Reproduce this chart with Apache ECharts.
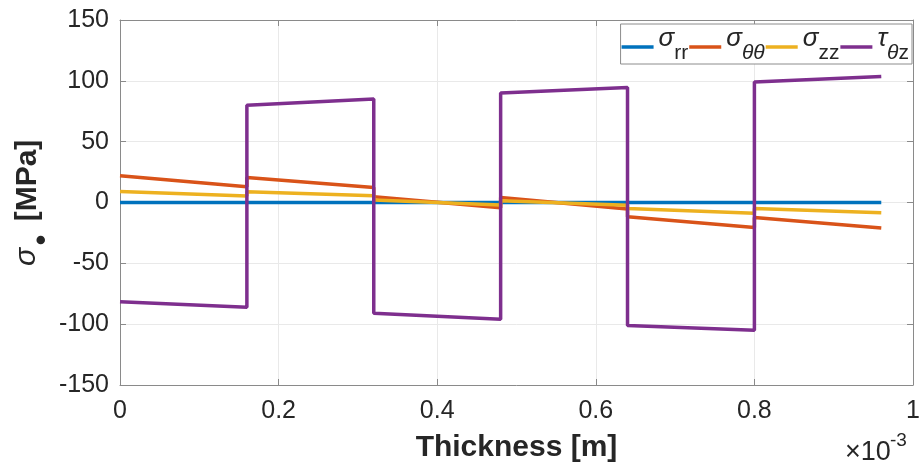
<!DOCTYPE html>
<html>
<head>
<meta charset="utf-8">
<script src="https://cdn.jsdelivr.net/npm/echarts@6/dist/echarts.min.js"></script>
<style>
  html, body { margin: 0; padding: 0; background: #fff; }
  #chart { width: 921px; height: 473px; }
</style>
</head>
<body>
<div id="chart"></div>
<script>
// Thickness positions (units of 1e-3 m); duplicated x values mark layer interfaces
const thickness = [0, 0.16, 0.16, 0.32, 0.32, 0.48, 0.48, 0.64, 0.64, 0.80, 0.80, 0.96];
const sigmaRR   = [0, 0, 0, 0, 0, 0, 0, 0, 0, 0, 0, 0];
const sigmaTT   = [22, 13, 20.5, 12.3, 4.7, -4.3, 4.1, -5.3, -11.8, -20.5, -12.3, -21];
const sigmaZZ   = [9, 5.4, 8.9, 5.5, 2.0, -2.0, 1.5, -2.2, -4.9, -8.8, -4.9, -8.5];
const tauTZ     = [-81.5, -86, 80, 85, -91, -96, 90, 94.5, -101, -105, 99, 103.5];

const seriesNames = ['σrr', 'σθθ', 'σzz', 'τθz'];
const seriesData = [sigmaRR, sigmaTT, sigmaZZ, tauTZ];
const seriesColors = ['#0072BD', '#D95319', '#EDB120', '#7E2F8E'];
const legendRich = {
  'σrr': '{g|σ}{s|rr}',
  'σθθ': '{g|σ}{si|θθ}',
  'σzz': '{g|σ}{s|zz}',
  'τθz': '{g|τ}{si|θ}{s|z}'
};

const xTicks = { min: 0, max: 1, interval: 0.2 };
const yTicks = { min: -150, max: 150, interval: 50 };

const FONT = '"Liberation Sans", Arial, Helvetica, sans-serif';
const TXT = '#262626';
const AX = '#8a8a8a';
const GRIDC = '#e9e9e9';

const chart = echarts.init(document.getElementById('chart'), null, { renderer: 'canvas' });

function pairs(xs, ys) { return xs.map((x, i) => [x, ys[i]]); }

const mainAxisCommon = {
  axisLine: { show: true, onZero: false, lineStyle: { color: AX, width: 1 } },
  axisTick: { show: true, inside: true, length: 6, lineStyle: { color: AX } },
};

const option = {
  animation: false,
  backgroundColor: '#ffffff',
  grid: { left: 120, right: 8, top: 20, bottom: 88, containLabel: false, outerBoundsMode: 'none' },
  xAxis: [
    Object.assign({
      type: 'value', position: 'bottom',
      min: xTicks.min, max: xTicks.max, interval: xTicks.interval,
      name: 'Thickness [m]', nameLocation: 'middle', nameGap: 48,
      nameTextStyle: { fontFamily: FONT, fontWeight: 'bold', fontSize: 30, color: TXT },
      axisLabel: { fontFamily: FONT, fontSize: 25, color: TXT, margin: 14,
        formatter: v => (Math.abs(v - Math.round(v)) < 1e-9 ? String(Math.round(v)) : v.toFixed(1)) },
      splitLine: { show: true, lineStyle: { color: GRIDC, width: 1 } }
    }, mainAxisCommon),
    Object.assign({
      type: 'value', position: 'top',
      min: xTicks.min, max: xTicks.max, interval: xTicks.interval,
      axisLabel: { show: false }, splitLine: { show: false }
    }, mainAxisCommon)
  ],
  yAxis: [
    Object.assign({
      type: 'value', position: 'left',
      min: yTicks.min, max: yTicks.max, interval: yTicks.interval,
      axisLabel: { fontFamily: FONT, fontSize: 25, color: TXT, margin: 11 },
      splitLine: { show: true, lineStyle: { color: GRIDC, width: 1 } }
    }, mainAxisCommon),
    Object.assign({
      type: 'value', position: 'right',
      min: yTicks.min, max: yTicks.max, interval: yTicks.interval,
      axisLabel: { show: false }, splitLine: { show: false }
    }, mainAxisCommon)
  ],
  legend: {
    data: seriesNames,
    top: 24, right: 9,
    orient: 'horizontal',
    icon: 'rect', itemWidth: 32, itemHeight: 3.5, itemGap: 1,
    padding: [0, 3, 0, 1],
    borderColor: '#8c8c8c', borderWidth: 1, backgroundColor: '#ffffff',
    formatter: name => legendRich[name],
    textStyle: {
      color: TXT,
      rich: {
        g: { fontFamily: FONT, fontStyle: 'italic', fontSize: 26, color: TXT, verticalAlign: 'top', lineHeight: 46, padding: [2, 0, 0, 0] },
        s: { fontFamily: FONT, fontSize: 21, color: TXT, verticalAlign: 'top', padding: [19, 0, 0, 0] },
        si: { fontFamily: FONT, fontStyle: 'italic', fontSize: 21, color: TXT, verticalAlign: 'top', padding: [19, 0, 0, 0] }
      }
    }
  },
  series: seriesNames.map((n, i) => ({
    name: n,
    type: 'line',
    xAxisIndex: 0, yAxisIndex: 0,
    data: pairs(thickness, seriesData[i]),
    showSymbol: false, symbol: 'none',
    color: seriesColors[i],
    lineStyle: { color: seriesColors[i], width: 3.5 },
    emphasis: { disabled: true },
    z: 2 + i
  })),
  graphic: [
    { type: 'text', x: 27, y: 257, rotation: Math.PI / 2,
      style: { text: 'σ', font: 'italic 30px ' + FONT, fill: TXT, textAlign: 'center', textVerticalAlign: 'middle' } },
    { type: 'text', x: 43, y: 240, rotation: Math.PI / 2,
      style: { text: '•', font: 'bold 30px ' + FONT, fill: TXT, textAlign: 'center', textVerticalAlign: 'middle' } },
    { type: 'text', x: 28, y: 180.5, rotation: Math.PI / 2,
      style: { text: '[MPa]', font: 'bold 30px ' + FONT, fill: TXT, textAlign: 'center', textVerticalAlign: 'middle' } },
    { type: 'text', left: 845, top: 439,
      style: { text: '×10', font: '27px ' + FONT, fill: TXT } },
    { type: 'text', left: 890, top: 431,
      style: { text: '-3', font: '19px ' + FONT, fill: TXT } }
  ]
};

chart.setOption(option);
</script>
</body>
</html>
